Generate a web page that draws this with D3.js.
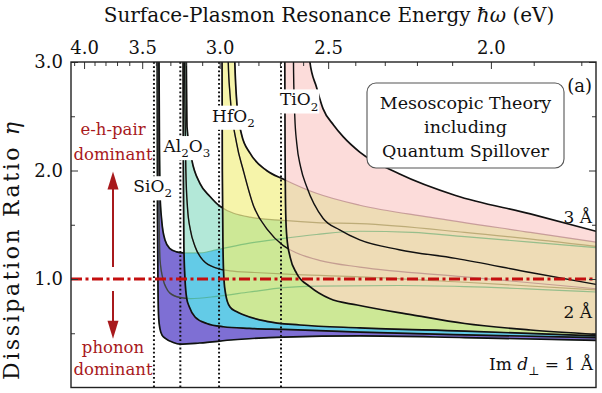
<!DOCTYPE html>
<html>
<head>
<meta charset="utf-8">
<script src="https://cdn.jsdelivr.net/npm/d3@7"></script>
<style>
  body { margin: 0; background: #fff; }
  text { font-family: "DejaVu Serif", "Liberation Serif", serif; fill: #111; }
</style>
</head>
<body>
<div id="vis"></div>
<script>
var width = 602
var height = 393
var box = {left: 71, right: 596, top: 62, bottom: 387.5}
var hc = 1239.84 // eV nm

var materials = ["SiO2", "Al2O3", "HfO2", "TiO2"]
var resonanceNm = [363.2, 383.3, 412.8, 460.0]

// dissipation ratio curves, [wavelength nm, eta], for Im d = 1, 2, 3 Angstrom
var sio2_1 = [[365.6,3.4],[365.9,1.6],[366.3,0.9],[366.8,0.64],[367.8,0.54],[369.5,0.48],[371.6,0.455],[377.9,0.415],[383,0.40],[398,0.41],[424,0.44],[462,0.465],[520,0.475],[600,0.46],[700,0.435]]
var sio2_2 = [[366.2,3.4],[366.6,2.2],[367.2,1.5],[367.8,1.18],[370.3,0.99],[372.5,0.92],[375.4,0.87],[383,0.83],[391,0.82],[411,0.84],[436,0.88],[462,0.92],[487,0.935],[550,0.94],[600,0.93],[700,0.88]]
var sio2_3 = [[366.9,3.4],[367.4,2.19],[367.8,1.79],[369.1,1.54],[371.6,1.36],[375.4,1.28],[380.5,1.25],[385.6,1.24],[398,1.24],[411,1.27],[436,1.33],[462,1.375],[487,1.41],[520,1.44],[560,1.43],[600,1.39],[700,1.29]]

var al2o3_1 = [[385.3,3.4],[385.6,2.0],[386.0,1.3],[386.9,0.99],[388.2,0.82],[390.1,0.745],[394.5,0.65],[403.4,0.59],[416,0.56],[436,0.545],[462,0.535],[520,0.51],[600,0.485],[700,0.46]]
var al2o3_2 = [[386.3,3.4],[386.8,2.6],[387.5,2.0],[388.8,1.65],[391,1.45],[394.5,1.3],[400.8,1.17],[411,1.10],[421,1.075],[440,1.06],[472,1.04],[520,1.02],[600,0.97],[700,0.9]]
var al2o3_3 = [[387.6,3.4],[388.0,2.8],[388.4,2.4],[392,2.10],[398.3,1.88],[405.9,1.76],[413.5,1.67],[436.4,1.57],[462,1.54],[487,1.52],[520,1.51],[600,1.43],[700,1.30]]

var hfo2_1 = [[415.0,3.4],[415.3,2.0],[415.8,1.3],[416.5,1.0],[418,0.85],[421,0.745],[426,0.70],[431.3,0.67],[449,0.61],[474.5,0.576],[520,0.55],[600,0.52],[700,0.475]]
var hfo2_2 = [[419.4,3.4],[419.8,3.0],[421.1,2.71],[426.2,2.25],[431.3,2.0],[438.9,1.68],[450,1.45],[461.5,1.31],[472,1.24],[490,1.17],[520,1.11],[600,1.02],[700,0.91]]
var hfo2_3 = [[424.0,3.4],[424.8,3.0],[426.5,2.6],[430,2.33],[436.4,2.16],[449,2.0],[462,1.92],[487,1.79],[520,1.68],[573,1.57],[650,1.43],[700,1.34]]

var tio2_1 = [[462.8,3.4],[463.1,2.2],[463.6,1.6],[464.5,1.38],[467,1.2],[472,1.05],[482,0.93],[497,0.82],[518,0.76],[560,0.67],[600,0.59],[650,0.53],[700,0.49]]
var tio2_2 = [[469.2,3.4],[469.6,2.9],[470.5,2.5],[472,2.25],[475,2.03],[479.6,1.85],[492,1.56],[505,1.45],[520,1.36],[550,1.27],[593,1.19],[650,1.06],[700,0.95]]
var tio2_3 = [[480.5,3.4],[482,3.0],[487,2.77],[492,2.57],[500,2.42],[507.5,2.31],[520,2.17],[550,1.97],[593,1.77],[650,1.6],[700,1.44]]

var curves = [[sio2_1, sio2_2, sio2_3], [al2o3_1, al2o3_2, al2o3_3], [hfo2_1, hfo2_2, hfo2_3], [tio2_1, tio2_2, tio2_3]]

var energyMajor = [4.0, 3.5, 3.0, 2.5, 2.0]
var energyMinor = [4.1, 3.9, 3.8, 3.7, 3.6, 3.4, 3.3, 3.2, 3.1, 2.9, 2.8, 2.7, 2.6, 2.4, 2.3, 2.2, 2.1, 1.9, 1.8]
var etaMajor = [1.0, 2.0, 3.0]
var etaMinor = [0.5, 1.5, 2.5]

var fillAlone = ["#7e6fd4", "#b3e8d8", "#f6f4aa", "#fcdcda"]
var fillOverlap = [null, "#63cbe7", "#cde896", "#eedcb6"]
var ghostColor = ["#3f9f62", "#8c7b3a", "#9b5f6e"]
var red = "#c40f0f"
var darkRed = "#a8191c"

var x = d3.scaleLinear().domain([300, 700]).range([box.left, box.right])
var y = d3.scaleLinear().domain([0, 3]).range([box.bottom, box.top])

var svg = d3.select("#vis").append("svg")
  .attr("width", width).attr("height", height)

var defs = svg.append("defs")
defs.append("clipPath").attr("id", "plotClip")
  .append("rect").attr("x", box.left).attr("y", box.top)
  .attr("width", box.right - box.left).attr("height", box.bottom - box.top)

var line = d3.line().x(d => x(d[0])).y(d => y(d[1])).curve(d3.curveMonotoneX)

function bandPath(lo, hi){
  var a = line(lo)
  var b = line(hi.slice().reverse())
  return a + "L" + b.slice(1) + "Z"
}
var bands = curves.map(c => bandPath(c[0], c[2]))

// clip paths of each band, used for overlap colours
bands.forEach((d, i) => {
  defs.append("clipPath").attr("id", "band" + i).append("path").attr("d", d)
})
// masks hiding the parts of a curve that sit under later bands
bands.forEach((d, i) => {
  var m = defs.append("mask").attr("id", "over" + i)
    .attr("maskUnits", "userSpaceOnUse")
    .attr("x", 0).attr("y", 0).attr("width", width).attr("height", height)
  m.append("rect").attr("width", width).attr("height", height).attr("fill", "white")
  for (var j = i + 1; j < bands.length; j++){
    m.append("path").attr("d", bands[j]).attr("fill", "black")
  }
})

var g = svg.append("g").attr("clip-path", "url(#plotClip)")

//fills
bands.forEach((d, i) => {
  g.append("path").attr("d", d).attr("fill", fillAlone[i])
  if (i > 0){
    g.append("g").attr("clip-path", "url(#band" + (i - 1) + ")")
      .append("path").attr("d", d).attr("fill", fillOverlap[i])
  }
  if (i == 3){
    g.append("g").attr("clip-path", "url(#band1)")
      .append("path").attr("d", d).attr("fill", fillOverlap[i])
  }
})

// faded curves seen through the later bands
curves.forEach((c, i) => {
  if (i == 3) return
  c.forEach(pts => {
    g.append("path").attr("d", line(pts)).attr("fill", "none")
      .attr("stroke", ghostColor[i]).attr("stroke-width", 1.2).attr("stroke-opacity", 0.5)
  })
})

// dotted resonance markers
g.selectAll(".res").data(resonanceNm).enter().append("line")
  .attr("x1", d => x(d)).attr("x2", d => x(d))
  .attr("y1", box.top).attr("y2", box.bottom)
  .attr("stroke", "#111").attr("stroke-width", 2)
  .attr("stroke-dasharray", "1.8,2.4")

// curves
curves.forEach((c, i) => {
  var cg = g.append("g").attr("mask", "url(#over" + i + ")")
  c.forEach((pts, k) => {
    cg.append("path").attr("d", line(pts)).attr("fill", "none")
      .attr("stroke", k == 1 && i == 0 ? "#444" : "#111")
      .attr("stroke-width", k == 1 ? 1.4 : 1.7)
  })
})

// eta = 1 boundary
g.append("line").attr("x1", box.left).attr("x2", box.right)
  .attr("y1", y(1)).attr("y2", y(1))
  .attr("stroke", red).attr("stroke-width", 3)
  .attr("stroke-dasharray", "11,3.5,3,3.5")

// axes
function styleAxis(sel){
  sel.select(".domain").remove()
  sel.selectAll(".tick line").attr("stroke", "#333").attr("stroke-width", 1)
  sel.selectAll(".tick text").attr("font-size", 18).attr("font-family", "DejaVu Serif").attr("fill", "#111")
}
svg.append("g").attr("transform", "translate(0," + box.top + ")")
  .call(d3.axisTop(x).tickValues(energyMajor.map(e => hc / e))
    .tickFormat((d, i) => energyMajor[i].toFixed(1)).tickSize(-7).tickPadding(8))
  .call(styleAxis)
svg.append("g").attr("transform", "translate(0," + box.top + ")")
  .call(d3.axisTop(x).tickValues(energyMinor.map(e => hc / e)).tickFormat("").tickSize(-4))
  .call(styleAxis)
svg.append("g").attr("transform", "translate(" + box.left + ",0)")
  .call(d3.axisLeft(y).tickValues(etaMajor).tickFormat(d3.format(".1f")).tickSize(-7).tickPadding(8))
  .call(styleAxis)
svg.append("g").attr("transform", "translate(" + box.left + ",0)")
  .call(d3.axisLeft(y).tickValues(etaMinor).tickFormat("").tickSize(-4))
  .call(styleAxis)
svg.append("g").attr("transform", "translate(" + box.right + ",0)")
  .call(d3.axisRight(y).tickValues(etaMajor).tickFormat("").tickSize(-7))
  .call(styleAxis)
svg.append("g").attr("transform", "translate(" + box.right + ",0)")
  .call(d3.axisRight(y).tickValues(etaMinor).tickFormat("").tickSize(-4))
  .call(styleAxis)

// text with sub/italic parts
function rich(parent, parts, px, py, size, anchor, color, bg){
  var t = parent.append("text").attr("x", px).attr("y", py)
    .attr("font-size", size).attr("text-anchor", anchor || "start")
  if (color) t.style("fill", color)
  var shift = 0
  parts.forEach(p => {
    var ts = t.append("tspan").text(p[0])
    var want = p[1] == "sub" ? size * 0.3 : 0
    if (want != shift){ ts.attr("dy", want - shift); shift = want }
    if (p[1] == "sub") ts.attr("font-size", size * 0.7)
    if (p[1] == "it") ts.attr("font-style", "italic")
  })
  if (bg){
    var b = t.node().getBBox()
    parent.insert("rect", function(){ return t.node() })
      .attr("x", b.x - 1).attr("y", b.y).attr("width", b.width + 2).attr("height", b.height)
      .attr("fill", "white")
  }
  return t
}

var labels = svg.append("g")
rich(labels, [["Si"], ["O"], ["2", "sub"]], x(347.5), y(1.80), 17, "start", null, true)
rich(labels, [["Al"], ["2", "sub"], ["O"], ["3", "sub"]], x(370.5), y(2.17), 17, "start", null, true)
rich(labels, [["HfO"], ["2", "sub"]], x(407.5), y(2.45), 17, "start", null, true)
rich(labels, [["TiO"], ["2", "sub"]], x(459.2), y(2.60), 17, "start", null, true)

rich(labels, [["3 Å"]], 592, y(1.52), 17, "end")
rich(labels, [["2 Å"]], 592, y(0.64), 17, "end")
rich(labels, [["Im "], ["d", "it"], ["⊥", "sub"], [" = 1 Å"]], 593, y(0.16), 17, "end")
rich(labels, [["(a)"]], 592, 92, 18, "end")

// legend box
svg.append("rect").attr("x", 367).attr("y", 83).attr("width", 197).attr("height", 85)
  .attr("rx", 9).attr("fill", "white").attr("stroke", "#555").attr("stroke-width", 1.1)
var legendLines = ["Mesoscopic Theory", "including", "Quantum Spillover"]
legendLines.forEach((s, i) => {
  svg.append("text").attr("x", 465.5).attr("y", 109 + i * 24).attr("text-anchor", "middle")
    .attr("font-size", 17.5).text(s)
})

// e-h-pair / phonon annotations
var ann = svg.append("g")
var ax = x(332)
rich(ann, [["e-h-pair"]], ax, y(2.33), 16.5, "middle", darkRed)
rich(ann, [["dominant"]], ax, y(2.10), 16.5, "middle", darkRed)
rich(ann, [["phonon"]], ax, y(0.32), 16.5, "middle", darkRed)
rich(ann, [["dominant"]], ax, y(0.115), 16.5, "middle", darkRed)
function arrow(from, to){
  var dir = to > from ? 1 : -1
  ann.append("line").attr("x1", ax).attr("x2", ax)
    .attr("y1", y(from)).attr("y2", y(to) + dir * 12)
    .attr("stroke", darkRed).attr("stroke-width", 2)
  ann.append("path")
    .attr("d", "M" + ax + "," + y(to) + "L" + (ax - 5.5) + "," + (y(to) + dir * 18) +
      "L" + (ax + 5.5) + "," + (y(to) + dir * 18) + "Z")
    .attr("fill", darkRed)
}
arrow(1.11, 1.99)
arrow(0.89, 0.45)

// titles
svg.append("text").attr("x", 329).attr("y", 22).attr("text-anchor", "middle").attr("font-size", 20)
  .html('Surface-Plasmon Resonance Energy <tspan font-style="italic">ħω</tspan> (eV)')
svg.append("text").attr("transform", "translate(19,251) rotate(-90)").attr("text-anchor", "middle")
  .attr("font-size", 22).attr("textLength", 258).attr("lengthAdjust", "spacing")
  .html('Dissipation Ratio <tspan font-style="italic">η</tspan>')

// frame
svg.append("rect").attr("x", box.left).attr("y", box.top)
  .attr("width", box.right - box.left).attr("height", box.bottom - box.top)
  .attr("fill", "none").attr("stroke", "#222").attr("stroke-width", 1.4)
</script>
</body>
</html>
